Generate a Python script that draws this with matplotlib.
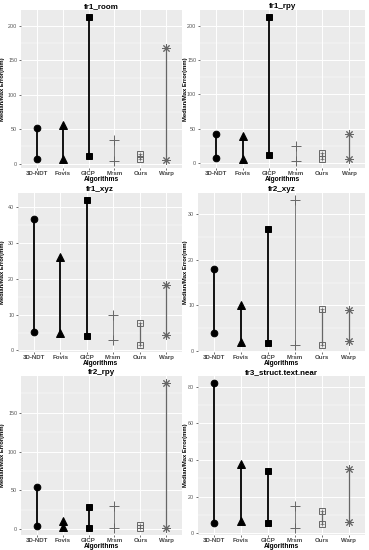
import numpy as np
import matplotlib
matplotlib.use("Agg")
import matplotlib.pyplot as plt
from matplotlib.ticker import MultipleLocator

plt.rcParams['font.family'] = ['Liberation Sans', 'DejaVu Sans']

# ==============================
# DATA
# ==============================
algorithms = ["3D-NDT", "Fovis", "GICP", "Mrsm", "Ours", "Warp"]
titles = ["fr1_room", "fr1_rpy", "fr1_xyz", "fr2_xyz", "fr2_rpy", "fr3_struct.text.near"]

median_fr1_room = [7, 6, 11, 4, 6, 5]
max_fr1_room = [52, 56, 213, 34, 14, 168]

median_fr1_rpy = [7, 6, 11, 3, 5, 5]
max_fr1_rpy = [42, 39, 213, 25, 15, 42]

median_fr1_xyz = [5.3, 4.8, 4.0, 2.8, 1.6, 4.2]
max_fr1_xyz = [36.8, 26.0, 42.0, 10.0, 7.6, 18.2]

median_fr2_xyz = [4.0, 2.0, 1.8, 1.4, 1.4, 2.2]
max_fr2_xyz = [18.0, 10.0, 26.8, 33.0, 9.2, 8.9]

median_fr2_rpy = [4, 3, 2, 2, 2, 2]
max_fr2_rpy = [55, 11, 29, 30, 5, 188]

median_fr3 = [5.5, 6.5, 5.5, 3.0, 5.0, 6.0]
max_fr3 = [82, 38, 34, 15, 12, 35]

medians = [median_fr1_room, median_fr1_rpy, median_fr1_xyz,
           median_fr2_xyz, median_fr2_rpy, median_fr3]
maxes = [max_fr1_room, max_fr1_rpy, max_fr1_xyz,
         max_fr2_xyz, max_fr2_rpy, max_fr3]

# ==============================
# Style per algorithm (ggplot-like shapes)
# ==============================
styles = {
    "3D-NDT": dict(marker='o', color='black', ms=4.8, lw=1.3, mfc='black'),
    "Fovis": dict(marker='^', color='black', ms=5.2, lw=1.3, mfc='black'),
    "GICP": dict(marker='s', color='black', ms=4.4, lw=1.3, mfc='black'),
    "Mrsm": dict(marker='+', color='#666666', ms=7.0, lw=0.6, mfc='none'),
    "Ours": dict(marker='s', color='#666666', ms=4.2, lw=0.9, mfc='none'),
    "Warp": dict(marker=(8, 2, 0), color='#666666', ms=6.0, lw=0.9, mfc='none'),
}
major_steps = [50, 50, 10, 10, 50, 20]

# panel rectangles in pixels (left, top, right, bottom)
W, H = 369, 550
rects = [(21, 10, 182, 168), (200, 10, 365, 168),
         (18, 193, 182, 352), (198, 193, 365, 352),
         (21, 376, 182, 535), (198, 376, 365, 535)]

fig = plt.figure(figsize=(W / 100, H / 100), dpi=100)

for i in range(6):
    l, t, r, b = rects[i]
    ax = fig.add_axes([l / W, 1 - b / H, (r - l) / W, (b - t) / H])
    ax.set_facecolor('#EBEBEB')
    x = np.arange(1, len(algorithms) + 1)

    for j, alg in enumerate(algorithms):
        s = styles[alg]
        ax.plot([x[j], x[j]], [medians[i][j], maxes[i][j]], color=s['color'],
                lw=s['lw'], zorder=3, solid_capstyle='butt')
        ax.plot([x[j], x[j]], [medians[i][j], maxes[i][j]], linestyle='none',
                marker=s['marker'], ms=s['ms'], color=s['color'],
                mfc=s['mfc'], mew=0.7, zorder=4)
        if alg == "Ours":
            ax.plot([x[j], x[j]], [medians[i][j], maxes[i][j]], linestyle='none',
                    marker='+', ms=3.5, color=s['color'], mew=0.5, zorder=4)

    lo = min(medians[i] + maxes[i])
    hi = max(medians[i] + maxes[i])
    pad = (hi - lo) * 0.05
    ax.set_ylim(lo - pad, hi + pad)
    ax.set_xlim(0.4, 6.6)

    ax.yaxis.set_major_locator(MultipleLocator(major_steps[i]))
    ax.yaxis.set_minor_locator(MultipleLocator(major_steps[i] / 2))
    ax.set_xticks(x)
    ax.set_xticklabels(algorithms, fontsize=4.4, color='#444444', fontweight='bold')
    ax.tick_params(axis='y', labelsize=3.9, labelcolor='#555555', length=1.5,
                   width=0.5, color='#333333', pad=1.2)
    ax.tick_params(axis='x', length=1.5, width=0.5, color='#333333', pad=1.0)
    ax.tick_params(which='minor', length=0)

    ax.grid(True, which='major', color='white', lw=0.7, zorder=0)
    ax.grid(True, which='minor', axis='y', color='white', lw=0.35, zorder=0)
    ax.set_axisbelow(True)
    for sp in ax.spines.values():
        sp.set_visible(False)

    ax.set_title(titles[i], fontsize=5.8, fontweight='bold', pad=1.5)
    ax.set_xlabel("Algorithms", fontsize=4.8, fontweight='bold', labelpad=0.0)
    ax.set_ylabel("Median/Max Error(mm)", fontsize=4.2, fontweight='bold')
    lab_x = 5.5 if i % 2 == 0 else 188.5
    ax.yaxis.set_label_coords(lab_x / W, 1 - (t + b) / 2 / H, transform=fig.transFigure)

fig.savefig("out.png", dpi=100, facecolor='white')
